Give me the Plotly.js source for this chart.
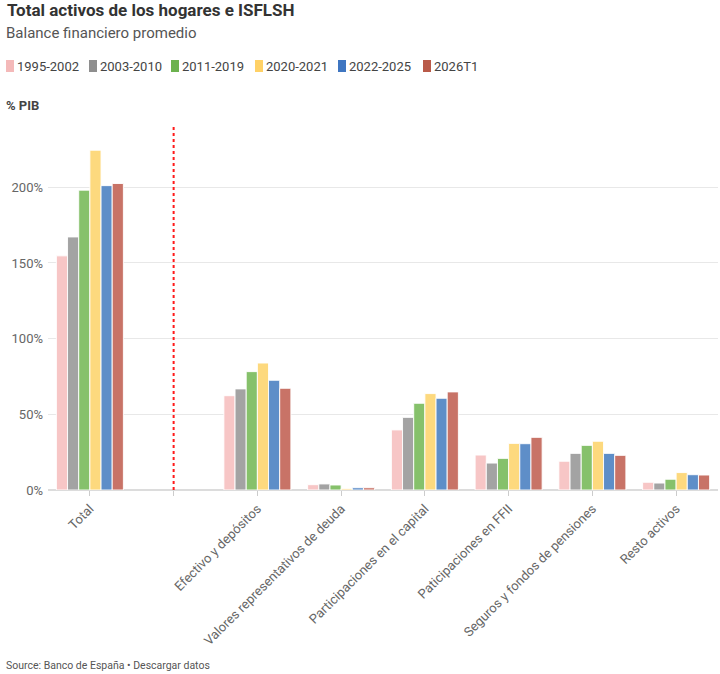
<!DOCTYPE html>
<html>
<head>
<meta charset="utf-8">
<script src="https://cdn.plot.ly/plotly-3.0.1.min.js"></script>
<style>
  html, body { margin: 0; padding: 0; background: #fff; }
  #chart { width: 720px; height: 674px; }
</style>
</head>
<body>
<div id="chart"></div>
<script>
// ---- Data ----
var categories = ["Total", " ", "Efectivo y depósitos", "Valores representativos de deuda",
  "Participaciones en el capital", "Paticipaciones en FFII", "Seguros y fondos de pensiones", "Resto activos"];
var seriesNames = ["1995-2002", "2003-2010", "2011-2019", "2020-2021", "2022-2025", "2026T1"];
var s1995_2002 = [154.7, null, 62.3, 3.5, 39.7, 23.1, 19.0, 5.1];
var s2003_2010 = [167.2, null, 66.8, 4.0, 48.0, 17.8, 24.2, 4.6];
var s2011_2019 = [198.1, null, 78.2, 3.3, 57.3, 20.9, 29.5, 7.1];
var s2020_2021 = [224.5, null, 83.9, 0.9, 63.7, 30.8, 32.2, 11.5];
var s2022_2025 = [201.1, null, 72.5, 1.5, 60.6, 30.6, 24.2, 10.1];
var s2026T1   = [202.5, null, 67.2, 1.5, 64.8, 34.8, 22.9, 9.9];
var seriesValues = [s1995_2002, s2003_2010, s2011_2019, s2020_2021, s2022_2025, s2026T1];
var yTickVals = [0, 50, 100, 150, 200];
var yTickText = ["0%", "50%", "100%", "150%", "200%"];

// ---- Styles ----
var legendColors = ["#f4b9b9", "#8e8e8e", "#6cb24e", "#ffd166", "#3f76c1", "#b95a49"];
var barColors    = ["#f7c6c6", "#a3a3a3", "#86c16b", "#fdd97e", "#5e8ec8", "#c87367"];

var W = 720, H = 674;
var mL = 48, mR = 2, mT = 126, mB = 184;
var pw = W - mL - mR, ph = H - mT - mB;
function px2x(p) { return (p - mL) / pw; }
function px2y(p) { return (H - mB - p) / ph; }

var traces = seriesNames.map(function (name, i) {
  return {
    type: "bar",
    name: name,
    x: categories,
    y: seriesValues[i],
    marker: { color: barColors[i], line: { color: "rgba(255,255,255,0.9)", width: 1 } },
    showlegend: false,
    hovertemplate: "%{x}<br>" + name + ": %{y:.1f}%<extra></extra>"
  };
});

var shapes = [{
  type: "line", xref: "x", yref: "paper",
  x0: categories[1], x1: categories[1], y0: 0, y1: 1,
  line: { color: "#ff1a1a", width: 2, dash: "dot" }
}];

var annotations = [
  { text: "Balance financiero promedio", xref: "paper", yref: "paper",
    x: px2x(4), y: px2y(33), xanchor: "left", yanchor: "middle", showarrow: false,
    font: { family: "Roboto, sans-serif", size: 15, color: "#555" } },
  { text: "<b>% PIB</b>", xref: "paper", yref: "paper",
    x: px2x(4), y: px2y(105), xanchor: "left", yanchor: "middle", showarrow: false,
    font: { family: "Roboto, sans-serif", size: 13, color: "#444" } },
  { text: "Source: Banco de España • Descargar datos", xref: "paper", yref: "paper",
    x: px2x(4), y: px2y(665), xanchor: "left", yanchor: "middle", showarrow: false,
    font: { family: "Roboto, sans-serif", size: 10.5, color: "#555" } }
];

// custom legend
var legX = [6, 89, 171, 255, 338, 423];
seriesNames.forEach(function (name, i) {
  shapes.push({
    type: "rect", xref: "paper", yref: "paper",
    x0: px2x(legX[i]), x1: px2x(legX[i] + 8),
    y0: px2y(72), y1: px2y(60),
    fillcolor: legendColors[i], line: { width: 0 }
  });
  annotations.push({
    text: name, xref: "paper", yref: "paper",
    x: px2x(legX[i] + 9), y: px2y(66.5), xanchor: "left", yanchor: "middle", showarrow: false,
    font: { family: "Roboto, sans-serif", size: 13, color: "#444" }
  });
});

var layout = {
  width: W, height: H,
  margin: { l: mL, r: mR, t: mT, b: mB, pad: 0 },
  paper_bgcolor: "#fff", plot_bgcolor: "#fff",
  title: {
    text: "<b>Total activos de los hogares e ISFLSH</b>",
    x: 7 / W, xanchor: "left", xref: "container",
    y: 1 - 10 / H, yanchor: "middle", yref: "container",
    font: { family: "Roboto, sans-serif", size: 17, color: "#333" }
  },
  font: { family: "Roboto, sans-serif", color: "#666" },
  barmode: "group",
  bargap: 0.2,
  bargroupgap: 0.0,
  xaxis: {
    type: "category",
    tickangle: -45,
    ticks: "outside", ticklen: 5, tickcolor: "#ccc", tickwidth: 1,
    tickfont: { size: 13, color: "#666" },
    showgrid: false, showline: false, zeroline: false
  },
  yaxis: {
    range: [0, 240.5],
    tickvals: yTickVals, ticktext: yTickText,
    tickfont: { size: 13, color: "#666" },
    showgrid: true, gridcolor: "#e8e8e8", gridwidth: 1,
    zeroline: true, zerolinecolor: "#dcdcdc", zerolinewidth: 2,
    ticks: "", ticklabelstandoff: 4
  },
  shapes: shapes,
  annotations: annotations,
  showlegend: false
};

Plotly.newPlot("chart", traces, layout, { displayModeBar: false, staticPlot: true });
</script>
</body>
</html>
